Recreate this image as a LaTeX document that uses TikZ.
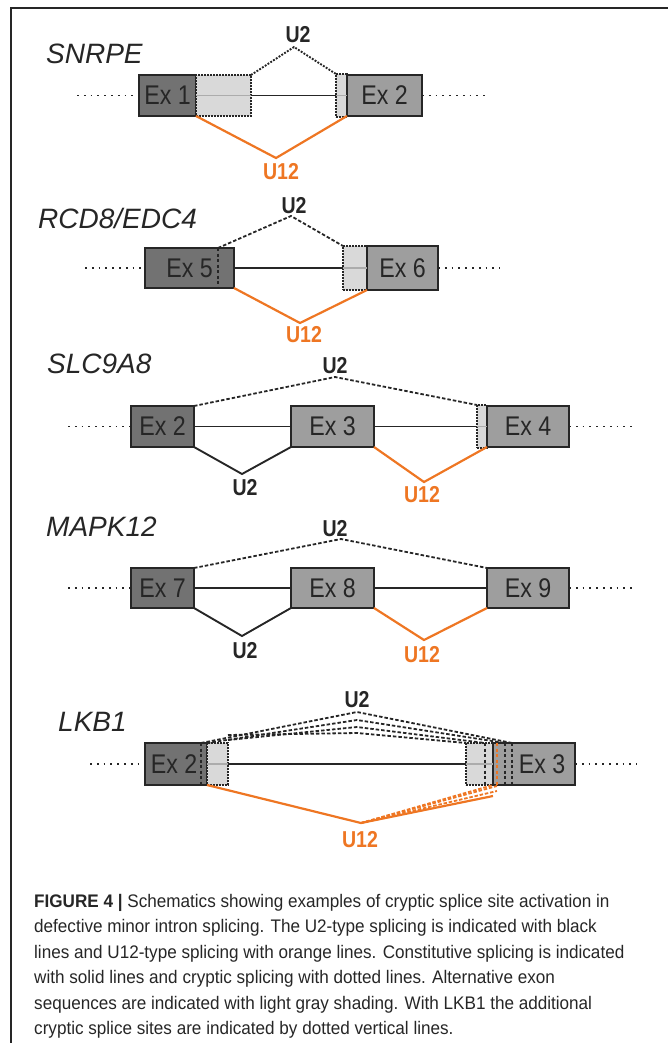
\documentclass[tikz,border=0pt]{standalone}
\usepackage{fontspec}
\setmainfont{Liberation Sans}
\newfontfamily\titlefont{Liberation Sans}
\newfontfamily\exfont[FakeStretch=0.86]{Liberation Sans}
\newfontfamily\lblfont[FakeStretch=0.85]{Liberation Sans}
\newfontfamily\capfont[FakeStretch=0.94]{Liberation Sans}
\usetikzlibrary{calc}
\definecolor{exd}{HTML}{727272}
\definecolor{exm}{HTML}{9E9E9E}
\definecolor{altg}{HTML}{D9D9D9}
\definecolor{org}{HTML}{EE7623}
\definecolor{ink}{HTML}{262626}
\tikzset{
 exon/.style={draw=ink, line width=1.8pt, inner sep=0pt, outer sep=0pt, anchor=north west, text=ink, font=\exfont\fontsize{27}{27}\selectfont},
 exdark/.style={exon, fill=exd},
 exmid/.style={exon, fill=exm},
 altbox/.style={draw=ink, line width=1.6pt, dash pattern=on 1.6pt off 1.4pt, fill=altg, inner sep=0pt, outer sep=0pt, anchor=north west},
 intron/.style={line width=1.8pt, draw=ink},
 passline/.style={line width=1.8pt, draw=gray!65},
 flank/.style={line width=1.8pt, draw=ink, dash pattern=on 1.8pt off 5pt},
 u2dot/.style={line width=1.9pt, draw=ink, dash pattern=on 1.9pt off 1.4pt},
 u2dash/.style={line width=1.8pt, draw=ink, dash pattern=on 3.5pt off 2pt},
 u2line/.style={line width=1.9pt, draw=ink},
 u12line/.style={line width=2.2pt, draw=org},
 u12dash/.style={line width=1.8pt, draw=org, dash pattern=on 3.5pt off 1.8pt},
 vsite/.style={line width=1.9pt, draw=ink, dash pattern=on 3pt off 2.5pt},
 vsiteo/.style={vsite, draw=org},
 lblk/.style={font=\lblfont\bfseries\fontsize{23}{23}\selectfont, text=ink, inner sep=0pt},
 lblo/.style={lblk, text=org},
 gene/.style={font=\titlefont\itshape\fontsize{28}{28}\selectfont, text=ink, anchor=base west, inner sep=0pt},
 capline/.style={font=\capfont\fontsize{18.2}{18.2}\selectfont, text=ink, anchor=base west, inner sep=0pt},
}
\begin{document}
\begin{tikzpicture}[x=1pt,y=-1pt]
\useasboundingbox (0,0) rectangle (668,1043);
% frame
\draw[line width=1.5pt, ink] (668,8) -- (11,8) -- (11,1043);

% ---------- Panel 1: SNRPE ----------
\node[gene] (g1) at (46,64) {SNRPE};
\node[exdark, minimum width=57pt, minimum height=41pt] (p1e1) at (139,75) {Ex 1};
\node[altbox, minimum width=55pt, minimum height=41pt] (p1a1) at (196,75) {};
\node[altbox, minimum width=11pt, minimum height=43pt] (p1a2) at (336,74) {};
\node[exmid, minimum width=75pt, minimum height=41pt] (p1e2) at (347,75) {Ex 2};
\coordinate (p1l) at (77,95.5);
\coordinate (p1r) at (485,95.5);
\draw[flank] (p1l) -- (p1e1.west);
\draw[flank] (p1e2.east) -- (p1r);
\draw[passline] (p1a1.west) -- (p1a1.east);
\draw[intron] (p1a1.east) -- (p1a2.west);
\draw[passline] (p1a2.west) -- (p1a2.east);
\coordinate (p1u2) at (294,47);
\draw[u2dot] (p1a1.north east) -- (p1u2) -- (p1a2.north west);
\node[lblk] (p1t2) at (298,35) {U2};
\coordinate (p1u12) at (276,158);
\draw[u12line] (p1e1.south east) -- (p1u12) -- (p1e2.south west);
\node[lblo] (p1t12) at (281,172) {U12};

% ---------- Panel 2: RCD8/EDC4 ----------
\node[gene] (g2) at (38,228) {RCD8/EDC4};
\node[exdark, minimum width=89pt, minimum height=40pt] (p2e5) at (145,248) {Ex 5};
\draw[vsite] ([xshift=-16pt]p2e5.north east) -- ([xshift=-16pt]p2e5.south east);
\node[altbox, minimum width=24pt, minimum height=44pt] (p2a) at (343,246) {};
\node[exmid, minimum width=71pt, minimum height=44pt] (p2e6) at (367,246) {Ex 6};
\coordinate (p2l) at (85,268);
\coordinate (p2r) at (500,268);
\draw[flank] (p2l) -- (p2e5.west);
\draw[flank] (p2e6.east) -- (p2r);
\draw[intron] (p2e5.east) -- (p2a.west);
\draw[passline] (p2a.west) -- (p2a.east);
\coordinate (p2u2) at (291,216);
\draw[u2dash] ([xshift=-16pt]p2e5.north east) -- (p2u2) -- (p2a.north west);
\node[lblk] (p2t2) at (294,206) {U2};
\coordinate (p2u12) at (300,323);
\draw[u12line] (p2e5.south east) -- (p2u12) -- (p2e6.south west);
\node[lblo] (p2t12) at (304,335) {U12};

% ---------- Panel 3: SLC9A8 ----------
\node[gene] (g3) at (47,373) {SLC9A8};
\node[exdark, minimum width=63pt, minimum height=41pt] (p3e2) at (131,406) {Ex 2};
\node[exmid, minimum width=83pt, minimum height=41pt] (p3e3) at (291,406) {Ex 3};
\node[altbox, minimum width=10pt, minimum height=43pt] (p3a) at (477,405) {};
\node[exmid, minimum width=82pt, minimum height=41pt] (p3e4) at (487,406) {Ex 4};
\coordinate (p3l) at (68,426.5);
\coordinate (p3r) at (635,426.5);
\draw[flank] (p3l) -- (p3e2.west);
\draw[flank] (p3e4.east) -- (p3r);
\draw[intron] (p3e2.east) -- (p3e3.west);
\draw[intron] (p3e3.east) -- (p3a.west);
\draw[passline] (p3a.west) -- (p3a.east);
\coordinate (p3u2a) at (335,377);
\draw[u2dash] (p3e2.north east) -- (p3u2a) -- (p3a.north west);
\node[lblk] (p3t2a) at (335,366) {U2};
\coordinate (p3u2b) at (242,474);
\draw[u2line] (p3e2.south east) -- (p3u2b) -- (p3e3.south west);
\node[lblk] (p3t2b) at (245,488) {U2};
\coordinate (p3u12) at (424,482);
\draw[u12line] (p3e3.south east) -- (p3u12) -- (p3e4.south west);
\node[lblo] (p3t12) at (422,495) {U12};

% ---------- Panel 4: MAPK12 ----------
\node[gene] (g4) at (46,536) {MAPK12};
\node[exdark, minimum width=63pt, minimum height=40pt] (p4e7) at (131,568) {Ex 7};
\node[exmid, minimum width=83pt, minimum height=40pt] (p4e8) at (291,568) {Ex 8};
\node[exmid, minimum width=82pt, minimum height=40pt] (p4e9) at (487,568) {Ex 9};
\coordinate (p4l) at (68,588);
\coordinate (p4r) at (635,588);
\draw[flank] (p4l) -- (p4e7.west);
\draw[flank] (p4e9.east) -- (p4r);
\draw[intron] (p4e7.east) -- (p4e8.west);
\draw[intron] (p4e8.east) -- (p4e9.west);
\coordinate (p4u2a) at (341,539);
\draw[u2dash] (p4e7.north east) -- (p4u2a) -- (p4e9.north west);
\node[lblk] (p4t2a) at (335,529) {U2};
\coordinate (p4u2b) at (242,636);
\draw[u2line] (p4e7.south east) -- (p4u2b) -- (p4e8.south west);
\node[lblk] (p4t2b) at (245,651) {U2};
\coordinate (p4u12) at (424,640);
\draw[u12line] (p4e8.south east) -- (p4u12) -- (p4e9.south west);
\node[lblo] (p4t12) at (422,655) {U12};

% ---------- Panel 5: LKB1 ----------
\node[gene] (g5) at (58,731) {LKB1};
\node[exdark, minimum width=62pt, minimum height=42pt] (p5e2) at (145,743) {Ex 2\hspace*{4pt}};
\node[altbox, minimum width=21pt, minimum height=42pt] (p5a1) at (207,743) {};
\node[altbox, minimum width=27pt, minimum height=42pt] (p5a2) at (466,743) {};
\node[exmid, minimum width=82pt, minimum height=42pt] (p5e3) at (493,743) {\hspace*{16pt}Ex 3};
\coordinate (p5l) at (90,764);
\coordinate (p5r) at (637,764);
\draw[flank] (p5l) -- (p5e2.west);
\draw[flank] (p5e3.east) -- (p5r);
\draw[passline] (p5a1.west) -- (p5a1.east);
\draw[intron] (p5a1.east) -- (p5a2.west);
\draw[passline] (p5a2.west) -- (p5a2.east);
% cryptic site marks
\coordinate (s1t) at ([xshift=-6pt]p5e2.north east);
\coordinate (s1b) at ([xshift=-6pt]p5e2.south east);
\draw[vsite] (s1t) -- (s1b);
\coordinate (s2t) at ([xshift=-8pt]p5a2.north east);
\coordinate (s2b) at ([xshift=-8pt]p5a2.south east);
\draw[vsite] (s2t) -- (s2b);
\coordinate (s3t) at ([xshift=4pt]p5e3.north west);
\coordinate (s3b) at ([xshift=4pt]p5e3.south west);
\draw[vsiteo] (s3t) -- (s3b);
\coordinate (s4t) at ([xshift=12pt]p5e3.north west);
\coordinate (s4b) at ([xshift=12pt]p5e3.south west);
\draw[vsite] (s4t) -- (s4b);
\coordinate (s5t) at ([xshift=19pt]p5e3.north west);
\coordinate (s5b) at ([xshift=19pt]p5e3.south west);
\draw[vsite] (s5t) -- (s5b);
% U2 cryptic
\coordinate (k1) at (357,712);
\coordinate (k2) at (357,720);
\coordinate (k3) at (357,727);
\coordinate (k4) at (357,733);
\coordinate (q3) at ([yshift=3pt]p5a1.north east);
\coordinate (q4) at ([yshift=8pt]p5a1.north east);
\draw[u2dash] (s1t) -- (k1) -- (s5t);
\draw[u2dash] (p5e2.north east) -- (k2) -- (s4t);
\draw[u2dash] (q3) -- (k3) -- (s2t);
\draw[u2dash] (q4) -- (k4) -- (p5a2.north west);
\node[lblk] (p5t2) at (357,700) {U2};
% U12
\coordinate (k12) at (361,823);
\coordinate (r1) at ([yshift=-11pt]p5e3.south west);
\coordinate (r2) at ([yshift=-6pt]s3b);
\coordinate (r3) at ([yshift=-1pt]s3b);
\draw[u12line] (p5e2.south east) -- (k12) -- (r1);
\draw[u12dash] (k12) -- (r2);
\draw[u12dash] (k12) -- (r3);
\draw[u12dash] (k12) -- (p5a2.south east);
\node[lblo] (p5t12) at (360,840) {U12};

% ---------- Caption ----------
\node[capline] (c1) at (34,907) {\textbf{FIGURE 4 |} Schematics showing examples of cryptic splice site activation in};
\node[capline] (c2) at (34,932.5) {defective minor intron splicing. The U2-type splicing is indicated with black};
\node[capline] (c3) at (34,958) {lines and U12-type splicing with orange lines. Constitutive splicing is indicated};
\node[capline] (c4) at (34,983.5) {with solid lines and cryptic splicing with dotted lines. Alternative exon};
\node[capline] (c5) at (34,1009) {sequences are indicated with light gray shading. With LKB1 the additional};
\node[capline] (c6) at (34,1034.5) {cryptic splice sites are indicated by dotted vertical lines.};
\end{tikzpicture}
\end{document}
